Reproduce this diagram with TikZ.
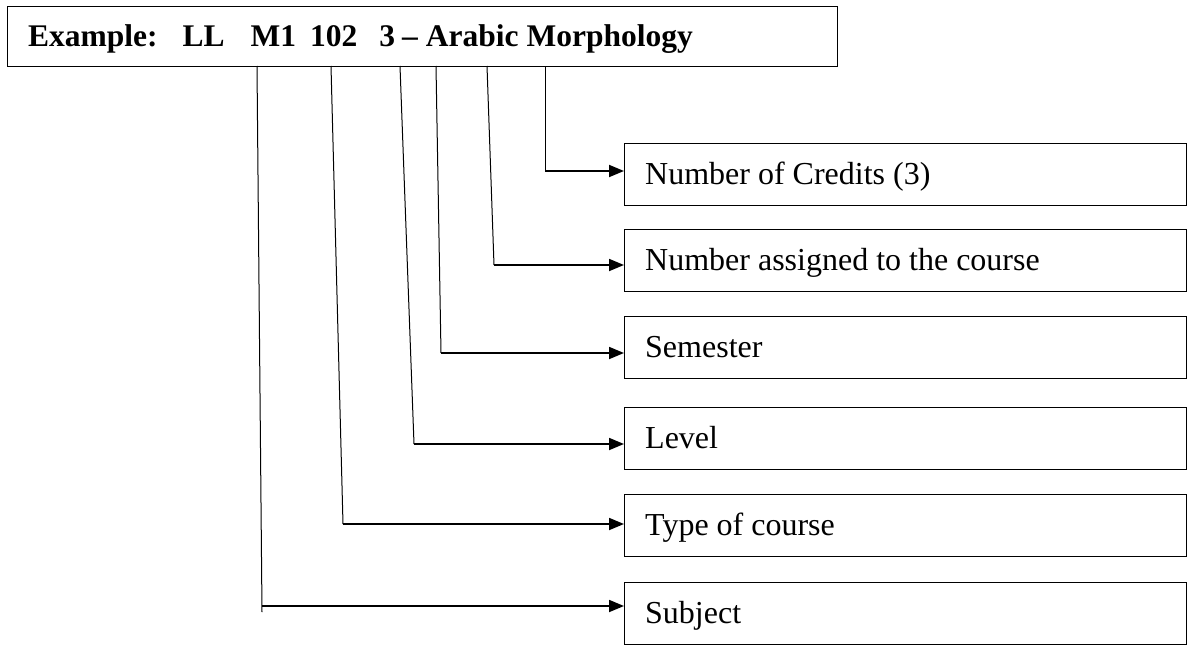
\documentclass[tikz,border=0pt]{standalone}
\usepackage{fontspec}
\setmainfont{Liberation Serif}
\usetikzlibrary{arrows.meta}
\tikzset{
  box/.style={draw,line width=1.3pt,rectangle,inner sep=0pt,anchor=north west},
  rbox/.style={box,minimum width=562pt,minimum height=62pt},
  lbl/.style={font=\fontsize{32}{38}\selectfont,anchor=base west,inner sep=0pt},
  toplbl/.style={font=\fontsize{31.5}{37}\selectfont\bfseries,anchor=base west,inner sep=0pt},
  conn/.style={line width=1pt},
  arr/.style={line width=1.8pt,-{Triangle[length=15pt,width=12pt]}}
}
\begin{document}
\begin{tikzpicture}[x=1pt,y=-1pt]
\useasboundingbox (0,0) rectangle (1187,648);
% top box
\node[box,minimum width=830pt,minimum height=60pt] (top) at (7,6) {};
\node[toplbl] (title) at (28,46) {Example:\hspace{25pt}LL\hspace{26pt}M1\hspace{14pt}102\hspace{22pt}3\hspace{7pt}--\hspace{8pt}Arabic Morphology};
% right boxes
\node[rbox] (b1) at (624,143) {};
\node[rbox] (b2) at (624,229) {};
\node[rbox] (b3) at (624,316) {};
\node[rbox] (b4) at (624,407) {};
\node[rbox] (b5) at (624,494) {};
\node[rbox] (b6) at (624,582) {};
\node[lbl] (l1) at ([xshift=21pt,yshift=-10pt]b1.west) {Number of Credits (3)};
\node[lbl] (l2) at ([xshift=21pt,yshift=-10pt]b2.west) {Number assigned to the course};
\node[lbl] (l3) at ([xshift=21pt,yshift=-10pt]b3.west) {Semester};
\node[lbl] (l4) at ([xshift=21pt,yshift=-10pt]b4.west) {Level};
\node[lbl] (l5) at ([xshift=21pt,yshift=-10pt]b5.west) {Type of course};
\node[lbl] (l6) at ([xshift=21pt,yshift=-10pt]b6.west) {Subject};
% connector start points (bottom of top box) and corners
\coordinate (t1) at (545,66);  \coordinate (c1) at (545,171);
\coordinate (t2) at (487,66);  \coordinate (c2) at (494,265);
\coordinate (t3) at (436,66);  \coordinate (c3) at (441,353);
\coordinate (t4) at (400,66);  \coordinate (c4) at (414,444);
\coordinate (t5) at (331,66);  \coordinate (c5) at (343,524);
\coordinate (t6) at (257,66);  \coordinate (c6) at (262,606);
\coordinate (e6) at (262,612);
\draw[conn] (t1) -- (c1);
\draw[conn] (t2) -- (c2);
\draw[conn] (t3) -- (c3);
\draw[conn] (t4) -- (c4);
\draw[conn] (t5) -- (c5);
\draw[conn] (t6) -- (e6);
\draw[arr] (c1) -- (c1 -| b1.west);
\draw[arr] (c2) -- (c2 -| b2.west);
\draw[arr] (c3) -- (c3 -| b3.west);
\draw[arr] (c4) -- (c4 -| b4.west);
\draw[arr] (c5) -- (c5 -| b5.west);
\draw[arr] (c6) -- (c6 -| b6.west);
\end{tikzpicture}
\end{document}
